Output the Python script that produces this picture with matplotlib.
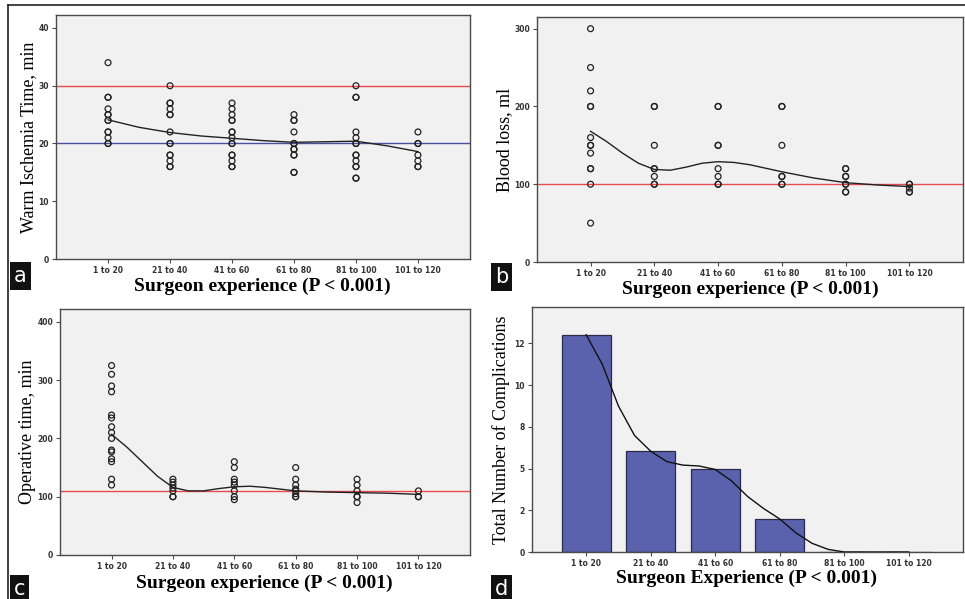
import numpy as np
import matplotlib
matplotlib.use("Agg")
import matplotlib.pyplot as plt
from matplotlib.lines import Line2D

groups = ["1 to 20", "21 to 40", "41 to 60", "61 to 80", "81 to 100", "101 to 120"]

# panel a: warm ischemia time (min), one list per group (repeats = overlapping points)
wit = [
    [34, 28, 28, 26, 25, 25, 24, 24, 22, 22, 21, 20, 20],
    [30, 27, 27, 26, 25, 25, 22, 20, 20, 18, 18, 17, 16, 16],
    [27, 26, 25, 24, 24, 22, 22, 21, 20, 20, 18, 18, 17, 16, 16],
    [25, 24, 24, 22, 20, 20, 19, 19, 18, 18, 15, 15],
    [30, 28, 28, 22, 21, 20, 20, 18, 18, 17, 16, 16, 14, 14],
    [22, 20, 20, 18, 17, 16, 16],
]
wit_fit_x = [1, 1.5, 2, 2.5, 3, 3.5, 4, 4.5, 5, 5.5, 6]
wit_fit_y = [24.1, 22.8, 21.9, 21.3, 20.9, 20.5, 20.2, 20.3, 20.4, 19.6, 18.6]

# panel b: blood loss (ml)
blood = [
    [300, 250, 220, 200, 200, 160, 150, 150, 140, 120, 120, 100, 50],
    [200, 200, 150, 120, 120, 110, 100, 100],
    [200, 200, 150, 150, 120, 110, 100, 100],
    [200, 200, 150, 110, 110, 100, 100],
    [120, 120, 110, 110, 100, 100, 90, 90],
    [100, 100, 95, 90, 90],
]
blood_fit_x = [1, 1.25, 1.5, 1.75, 2, 2.25, 2.5, 2.75, 3, 3.25, 3.5, 4, 4.5, 5, 5.5, 6]
blood_fit_y = [168, 155, 140, 127, 119, 118, 122, 127, 129, 128, 125, 116, 108, 102, 99, 97]

# panel c: operative time (min)
optime = [
    [325, 310, 290, 280, 240, 235, 220, 210, 200, 180, 177, 165, 160, 130, 120],
    [130, 125, 120, 115, 110, 100, 100],
    [160, 150, 130, 125, 120, 110, 100, 95],
    [150, 130, 120, 113, 110, 105, 100, 100],
    [130, 120, 110, 100, 100, 90],
    [110, 100, 100],
]
op_fit_x = [1, 1.25, 1.5, 1.75, 2, 2.25, 2.5, 2.75, 3, 3.25, 3.5, 4, 4.5, 5, 5.5, 6]
op_fit_y = [207, 185, 160, 135, 116, 110, 110, 114, 117, 118, 116, 110, 108, 107, 106, 104]

# panel d: total complications
compl = [12.5, 5.8, 4.8, 1.9, 0, 0]
compl_fit_x = [1, 1.25, 1.5, 1.75, 2, 2.25, 2.5, 2.75, 3, 3.25, 3.5, 3.75, 4, 4.25, 4.5, 4.75, 5, 6]
compl_fit_y = [12.5, 10.8, 8.4, 6.7, 5.8, 5.2, 5.0, 4.95, 4.75, 4.1, 3.2, 2.5, 1.9, 1.1, 0.5, 0.15, 0, 0]
compl_ticks = [0, 2.4, 4.8, 7.2, 9.6, 12]
compl_ticklabels = ["0", "2", "5", "8", "10", "12"]

W, H = 965, 599
fig = plt.figure(figsize=(W / 100, H / 100), dpi=100)
fig.patch.set_facecolor("white")

serif = ["Liberation Serif", "DejaVu Serif"]
RED = "#e84a50"
BLUE = "#4a4f9e"


def make_ax(l, t, r, b):
    ax = fig.add_axes([l / W, 1 - b / H, (r - l) / W, (b - t) / H])
    ax.set_facecolor("#f1f1f1")
    for s in ax.spines.values():
        s.set_color("#4a4a4a")
        s.set_linewidth(1.0)
    ax.set_xlim(0.16, 6.84)
    ax.set_xticks(range(1, 7))
    ax.set_xticklabels(groups)
    ax.tick_params(length=3, width=0.8, color="#4a4a4a", labelsize=5.5,
                   labelcolor="#333333", pad=2)
    for lab in ax.get_xticklabels() + ax.get_yticklabels():
        lab.set_fontweight("bold")
    return ax


def scatter_groups(ax, vals):
    for i, v in enumerate(vals):
        ax.scatter([i + 1] * len(v), v, s=18, facecolors="none",
                   edgecolors="#222222", linewidths=0.9, zorder=3)


def panel_letter(x, y, letter):
    fig.text(x / W, 1 - y / H, letter, color="white", fontsize=15,
             ha="left", va="center", family="DejaVu Sans",
             bbox=dict(boxstyle="square,pad=0.18", fc="#111111", ec="none"))


def xtitle(x, y, s):
    fig.text(x / W, 1 - y / H, s, family=serif, fontsize=14,
             fontweight="bold", ha="center", va="center")


# a
ax = make_ax(56, 15, 470, 259)
ax.set_ylim(0, 42.25)
ax.set_yticks([0, 10, 20, 30, 40])
ax.axhline(30, color=RED, lw=1.0, zorder=2)
ax.axhline(20, color=BLUE, lw=1.0, zorder=2)
scatter_groups(ax, wit)
ax.plot(wit_fit_x, wit_fit_y, color="#222222", lw=1.0, zorder=4)
ax.set_ylabel("Warm Ischemia Time, min", family=serif, fontsize=13, labelpad=1)
xtitle(262, 286, "Surgeon experience (P < 0.001)")
panel_letter(14, 276, "a")

# b
ax = make_ax(537, 17, 963, 262)
ax.set_ylim(0, 315)
ax.set_yticks([0, 100, 200, 300])
ax.axhline(100, color=RED, lw=1.0, zorder=2)
scatter_groups(ax, blood)
ax.plot(blood_fit_x, blood_fit_y, color="#222222", lw=1.0, zorder=4)
ax.set_ylabel("Blood loss, ml", family=serif, fontsize=13, labelpad=1)
xtitle(750, 289, "Surgeon experience (P < 0.001)")
panel_letter(495, 277, "b")

# c
ax = make_ax(60, 309, 470, 555)
ax.set_ylim(0, 422)
ax.set_yticks([0, 100, 200, 300, 400])
ax.axhline(110, color=RED, lw=1.0, zorder=2)
scatter_groups(ax, optime)
ax.plot(op_fit_x, op_fit_y, color="#222222", lw=1.0, zorder=4)
ax.set_ylabel("Operative time, min", family=serif, fontsize=13, labelpad=1)
xtitle(264, 583, "Surgeon experience (P < 0.001)")
panel_letter(14, 589, "c")

# d
ax = make_ax(532, 307, 963, 552)
ax.set_ylim(0, 14.1)
ax.set_yticks(compl_ticks)
ax.set_yticklabels(compl_ticklabels)
for lab in ax.get_yticklabels():
    lab.set_fontweight("bold")
ax.bar(range(1, 7), compl, width=0.76, color="#5a62ae", edgecolor="#2a2a4a",
       linewidth=0.9, zorder=2)
ax.plot(compl_fit_x, compl_fit_y, color="#111111", lw=1.0, zorder=4)
ax.set_ylabel("Total Number of Complications", family=serif, fontsize=13, labelpad=3)
xtitle(747, 578, "Surgeon Experience (P < 0.001)")
panel_letter(495, 589, "d")

# outer frame lines (top and left)
fig.add_artist(Line2D([8 / W, 1], [1 - 5 / H, 1 - 5 / H], color="#222222", lw=1.2))
fig.add_artist(Line2D([8 / W, 8 / W], [0, 1 - 5 / H], color="#222222", lw=1.2))

fig.savefig("out.png", dpi=100)
